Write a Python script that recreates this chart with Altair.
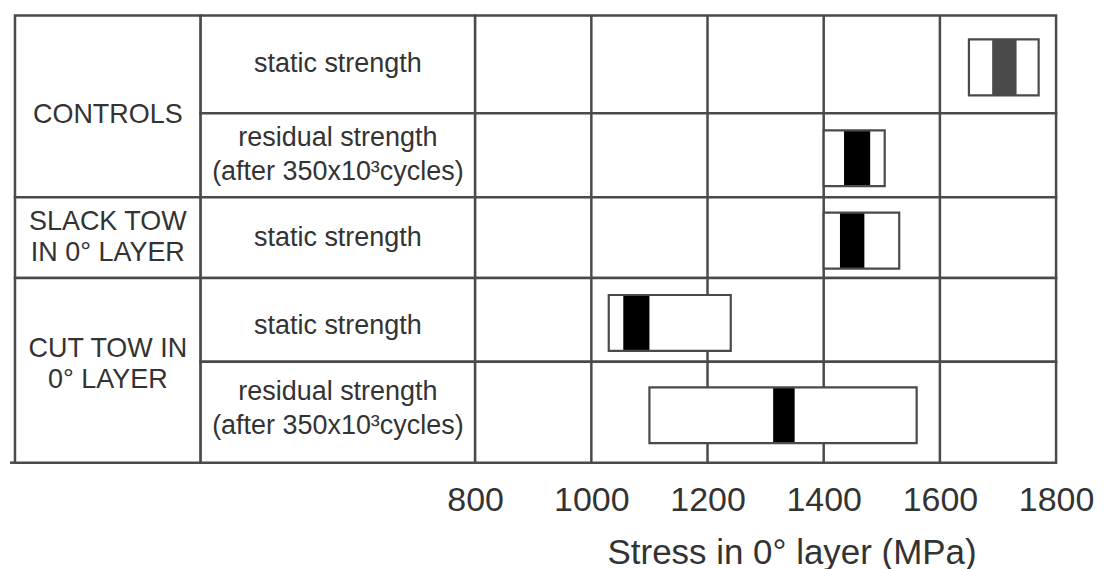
import altair as alt
import pandas as pd

# ---- data ----
GROUPS = ["CONTROLS", "SLACK TOW\nIN 0° LAYER", "CUT TOW IN\n0° LAYER"]
GROUP_ROWS = [2, 1, 2]  # condition rows per group
CONDITIONS = [
    "static strength",
    "residual strength\n(after 350x10³cycles)",
    "static strength",
    "static strength",
    "residual strength\n(after 350x10³cycles)",
]
BOX_LOW = [1650, 1400, 1400, 1030, 1100]
BOX_HIGH = [1770, 1505, 1530, 1240, 1560]
BAND_LOW = [1690, 1435, 1428, 1055, 1313]
BAND_HIGH = [1732, 1480, 1470, 1100, 1350]
TICKS = [800, 1000, 1200, 1400, 1600, 1800]
X_TITLE = "Stress in 0° layer (MPa)"

# ---- layout / style ----
ROW_HEIGHTS = [98, 84, 81, 84, 101]
GROUP_TEXT_NUDGE = [9, 0, -6]
COND_TEXT_NUDGE = [0, 0, 0, 6, -3]
BOX_HALF = 28
BOX_SHIFT = 3
W_GROUP, W_COND, W_PLOT = 186, 275, 582
FONT = "Liberation Sans"
TXT = "#333333"
LINE = "#4a4a4a"
LW = 2.5
LH_GROUP, LH_COND = 31, 34

edges = [0]
for h in ROW_HEIGHTS:
    edges.append(edges[-1] + h)
H = edges[-1]

rows = pd.DataFrame({
    "row": list(range(len(CONDITIONS))),
    "cond": CONDITIONS,
    "y0": edges[:-1],
    "y1": edges[1:],
    "lo": BOX_LOW,
    "hi": BOX_HIGH,
    "blo": BAND_LOW,
    "bhi": BAND_HIGH,
})
rows["ym"] = (rows["y0"] + rows["y1"]) / 2
rows["nl"] = rows["cond"].str.count("\n")
rows["ty"] = rows["ym"] - rows["nl"] * LH_COND / 2 + pd.Series(COND_TEXT_NUDGE)
rows["by0"] = rows["ym"] + BOX_SHIFT - BOX_HALF
rows["by1"] = rows["ym"] + BOX_SHIFT + BOX_HALF
rows["c0"] = 0.0
rows["c1"] = 1.0
rows["cm"] = 0.5
rows["p0"] = TICKS[0]
rows["p1"] = TICKS[-1]

g_y0, g_y1 = [], []
r = 0
for n in GROUP_ROWS:
    g_y0.append(edges[r])
    g_y1.append(edges[r + n])
    r += n
groups = pd.DataFrame({"group": GROUPS, "y0": g_y0, "y1": g_y1})
groups["ym"] = (groups["y0"] + groups["y1"]) / 2
groups["nl"] = groups["group"].str.count("\n")
groups["ty"] = groups["ym"] - groups["nl"] * LH_GROUP / 2 + pd.Series(GROUP_TEXT_NUDGE)
groups["g0"] = 0.0
groups["g1"] = 1.0
groups["gm"] = 0.5

grid = pd.DataFrame({"t": TICKS[1:-1]})
grid["y0"] = 0
grid["y1"] = H

yscale = alt.Scale(domain=[0, H], reverse=True, nice=False, zero=False)
unit = alt.Scale(domain=[0, 1], nice=False, zero=False)
xscale = alt.Scale(domain=[TICKS[0], TICKS[-1]], nice=False, zero=False)

XAX = alt.Axis(
    values=TICKS, format="d", title=X_TITLE,
    labelFont=FONT, labelFontSize=34, labelColor=TXT, labelPadding=21,
    labelFlush=False, labelOverlap=False,
    ticks=False, tickSize=0, domain=False, grid=False,
    titleFont=FONT, titleFontSize=35, titleColor=TXT,
    titleFontWeight="normal", titlePadding=18, titleX=317,
    titleAlign="center")

# ---- group column ----
gb = alt.Chart(groups)
g_rect = gb.mark_rect(fill="white", stroke=LINE, strokeWidth=LW).encode(
    x=alt.X("g0:Q", scale=unit, axis=None), x2="g1:Q",
    y=alt.Y("y0:Q", scale=yscale, axis=None), y2="y1:Q")
g_text = gb.mark_text(font=FONT, fontSize=27, color=TXT, lineBreak="\n",
                      lineHeight=LH_GROUP, align="center", baseline="middle").encode(
    x=alt.X("gm:Q", scale=unit, axis=None),
    y=alt.Y("ty:Q", scale=yscale, axis=None), text="group:N")
g_ext = alt.Chart(groups.tail(1)).mark_rule(color=LINE, strokeWidth=LW).encode(
    x=alt.value(-5), x2=alt.value(0),
    y=alt.Y("y1:Q", scale=yscale, axis=None))
col_group = alt.layer(g_rect, g_ext, g_text).properties(width=W_GROUP, height=H)

# ---- condition column ----
cb = alt.Chart(rows)
c_rect = cb.mark_rect(fill="white", stroke=LINE, strokeWidth=LW).encode(
    x=alt.X("c0:Q", scale=unit, axis=None), x2="c1:Q",
    y=alt.Y("y0:Q", scale=yscale, axis=None), y2="y1:Q")
c_text = cb.mark_text(font=FONT, fontSize=27, color=TXT, lineBreak="\n",
                      lineHeight=LH_COND, align="center", baseline="middle").encode(
    x=alt.X("cm:Q", scale=unit, axis=None),
    y=alt.Y("ty:Q", scale=yscale, axis=None), text="cond:N")
col_cond = alt.layer(c_rect, c_text).properties(width=W_COND, height=H)

# ---- plot column ----
pb = alt.Chart(rows)
p_rect = pb.mark_rect(fill="white", stroke=LINE, strokeWidth=LW).encode(
    x=alt.X("p0:Q", scale=xscale, axis=XAX), x2="p1:Q",
    y=alt.Y("y0:Q", scale=yscale, axis=None), y2="y1:Q")
p_grid = alt.Chart(grid).mark_rule(color=LINE, strokeWidth=LW).encode(
    x=alt.X("t:Q", scale=xscale, axis=XAX),
    y=alt.Y("y0:Q", scale=yscale, axis=None), y2="y1:Q")
p_box = pb.mark_rect(fill="white").encode(
    x=alt.X("lo:Q", scale=xscale, axis=XAX), x2="hi:Q",
    y=alt.Y("by0:Q", scale=yscale, axis=None), y2="by1:Q")
p_band = pb.mark_rect().encode(
    x=alt.X("blo:Q", scale=xscale, axis=XAX), x2="bhi:Q",
    y=alt.Y("by0:Q", scale=yscale, axis=None), y2="by1:Q",
    fill=alt.condition(alt.datum.row == 0, alt.value("#4a4a4a"), alt.value("#000000")))
p_outline = pb.mark_rect(fillOpacity=0, stroke=LINE, strokeWidth=2.2).encode(
    x=alt.X("lo:Q", scale=xscale, axis=XAX), x2="hi:Q",
    y=alt.Y("by0:Q", scale=yscale, axis=None), y2="by1:Q")
col_plot = alt.layer(p_rect, p_grid, p_box, p_band, p_outline).properties(
    width=W_PLOT, height=H)

chart = alt.hconcat(col_group, col_cond, col_plot, spacing=0, bounds="flush").resolve_scale(
    x="independent").properties(
    padding={"left": 0, "top": 5, "right": 2, "bottom": 2}
).configure_view(stroke=None)

chart.save("out.html", embed_options={"renderer": "svg", "actions": False})
